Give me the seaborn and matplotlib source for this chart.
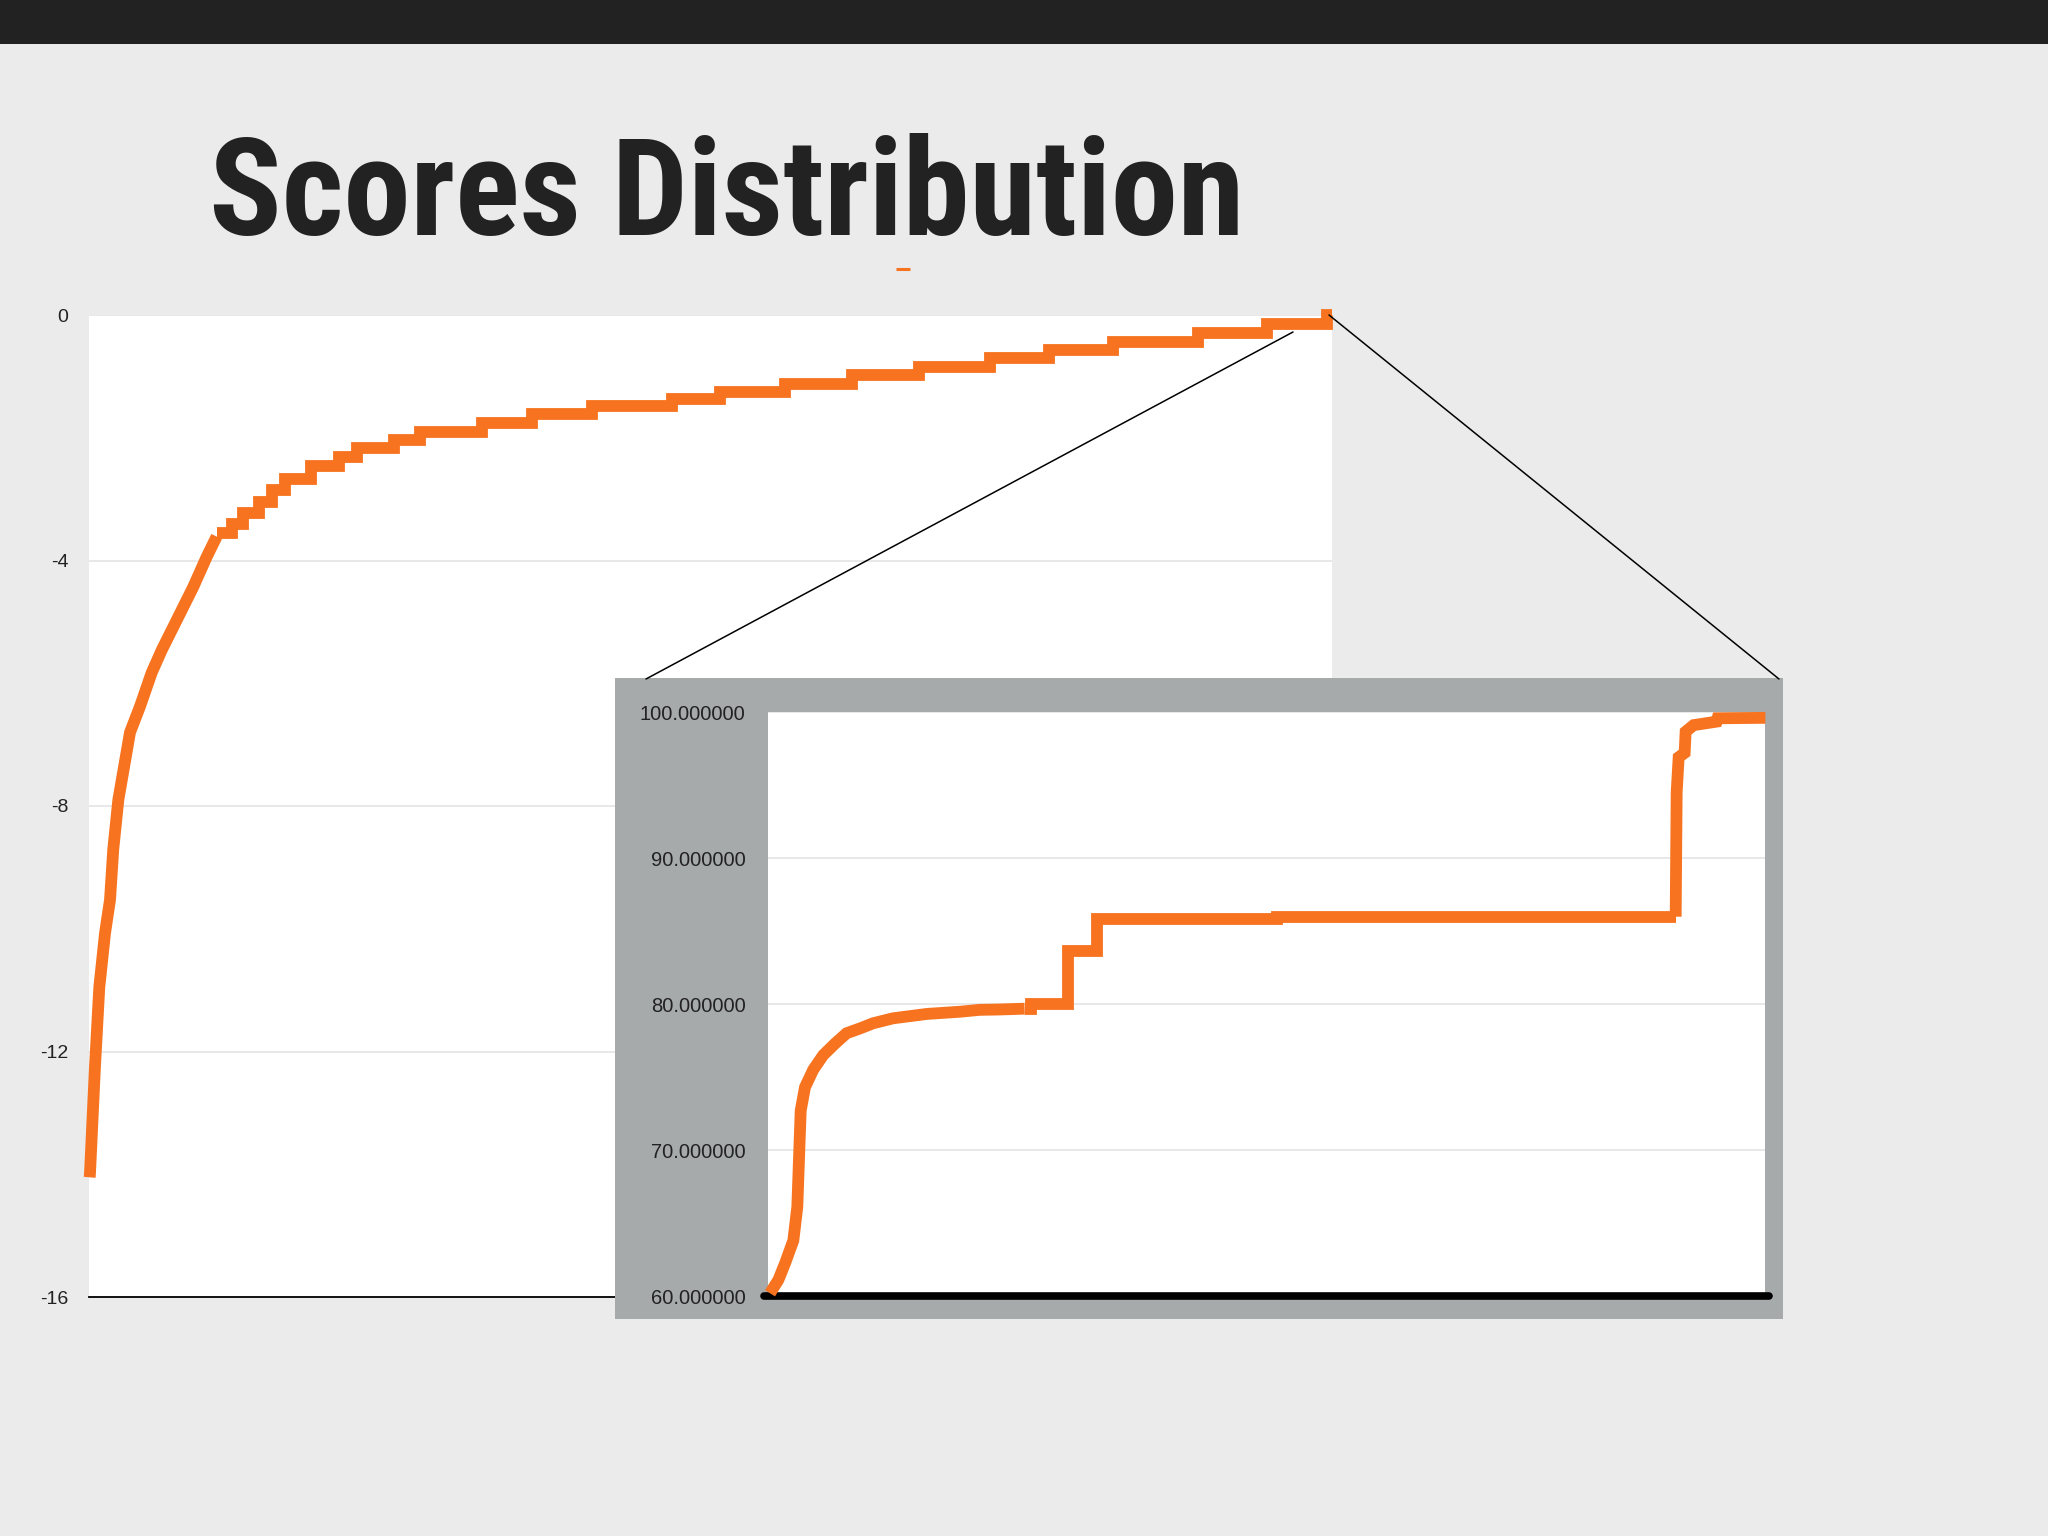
import matplotlib
matplotlib.use("Agg")
import matplotlib.pyplot as plt
import seaborn as sns
from matplotlib import font_manager
from matplotlib.lines import Line2D
from matplotlib.patches import Rectangle

# ---------------- data ----------------
# main chart: percentile of ranked items (x) vs. score (y)
# steep, smooth-looking head of the curve
main_head_x = [0.05, 0.08, 0.48, 0.83, 1.29, 1.69, 1.95, 2.36, 3.30, 4.10, 5.04, 5.85,
               7.06, 8.39, 9.47, 10.27]
main_head_y = [-14.05, -13.98, -12.25, -10.95, -10.07, -9.53, -8.71, -7.9, -6.8, -6.38,
               -5.83, -5.46, -4.97, -4.43, -3.94, -3.61]
# stepped tail of the curve
main_step_x = [10.27, 11.5, 12.4, 13.7, 14.7, 15.8, 17.9, 20.1, 21.6, 24.5, 26.6, 31.6,
               35.6, 40.5, 46.9, 50.8, 56.0, 61.4, 66.8, 72.5, 77.2, 82.4, 89.2, 94.8,
               99.6, 100]
main_step_y = [-3.55, -3.41, -3.23, -3.04, -2.85, -2.67, -2.46, -2.31, -2.17, -2.04,
               -1.90, -1.76, -1.61, -1.48, -1.37, -1.25, -1.12, -0.98, -0.84, -0.70,
               -0.57, -0.44, -0.29, -0.15, 0.0, 0.0]
main_ticks = [0, -4, -8, -12, -16]
main_tick_labels = ["0", "-4", "-8", "-12", "-16"]

# inset (zoomed) chart
inset_head_x = [0.16, 1.0, 1.67, 2.5, 2.9, 3.1, 3.24, 3.67, 4.5, 5.5, 6.7, 7.85, 9.2,
                10.5, 12.5, 15.9, 19.2, 21.2, 23.0, 25.7]
inset_head_y = [60.19, 61.1, 62.24, 63.8, 66.1, 70.0, 72.7, 74.3, 75.5, 76.5, 77.3, 78.0,
                78.33, 78.68, 79.02, 79.32, 79.47, 79.6, 79.62, 79.68]
inset_step_x = [25.7, 26.3, 30.0, 33.0, 51.0, 91.0]
inset_step_y = [79.68, 80.0, 83.6, 85.84, 85.98, 85.98]
inset_tail_x = [91.0, 91.1, 91.3, 91.9, 92.0, 92.8, 95.1, 95.2, 100]
inset_tail_y = [85.98, 94.5, 96.9, 97.2, 98.65, 99.1, 99.34, 99.57, 99.6]
inset_ticks = [60, 70, 80, 90, 100]
inset_tick_labels = ["%.6f" % v for v in inset_ticks]

title_text = "Scores Distribution"

# ---------------- style ----------------
ORANGE = "#F7731F"
BG = "#EBEBEC"
PANEL = "#A7AAAB"
TEXT = "#222222"
GRID = "#E2E2E2"
LW = 8.5

sns.set_theme(style="white")
plt.rcParams["font.family"] = ["Liberation Sans", "DejaVu Sans"]

W, H = 2048, 1536
fig = plt.figure(figsize=(W / 100, H / 100), dpi=100, facecolor=BG)


def fx(px):
    return px / W


def fy(py):
    return 1 - py / H


def draw_curve(ax, x, y, steps):
    kw = dict(ax=ax, color=ORANGE, linewidth=LW, estimator=None, sort=False,
              clip_on=False, solid_capstyle="butt", solid_joinstyle="miter", zorder=3)
    if steps:
        kw["drawstyle"] = "steps-post"
    sns.lineplot(x=x, y=y, **kw)
    for ln in ax.lines:
        if ln.get_color() == ORANGE:
            ln.set_linewidth(LW)


# top dark bar
fig.add_artist(Rectangle((0, fy(44)), 1, 44 / H, transform=fig.transFigure,
                         facecolor="#222222", edgecolor="none", zorder=0))

# ---------------- main axes ----------------
ax = fig.add_axes([fx(89), fy(1297), 1243 / W, 982 / H])
ax.set_facecolor("white")
draw_curve(ax, main_head_x, main_head_y, steps=False)
draw_curve(ax, main_step_x, main_step_y, steps=True)
ax.set_xlim(0, 100)
ax.set_ylim(-16, 0)
ax.set_xticks([])
ax.set_yticks(main_ticks)
ax.set_yticklabels(main_tick_labels)
ax.grid(axis="y", color=GRID, linewidth=1.1)
ax.set_axisbelow(True)
for s in ["left", "right", "top"]:
    ax.spines[s].set_visible(False)
ax.spines["bottom"].set_color("black")
ax.spines["bottom"].set_linewidth(1.3)
ax.tick_params(axis="y", length=0, pad=15, labelsize=14, labelcolor=TEXT)
ax.set_xlabel("")
ax.set_ylabel("")

# ---------------- inset panel ----------------
gp = fig.add_axes([fx(615), fy(1319), 1168 / W, 641 / H])
gp.set_facecolor(PANEL)
gp.set_xticks([])
gp.set_yticks([])
for s in gp.spines.values():
    s.set_visible(False)

ia = fig.add_axes([fx(768.4), fy(1296), 997 / W, 584 / H])
ia.set_facecolor("white")
draw_curve(ia, inset_head_x, inset_head_y, steps=False)
draw_curve(ia, inset_step_x, inset_step_y, steps=True)
draw_curve(ia, inset_tail_x, inset_tail_y, steps=False)
ia.axhline(60, xmin=-0.004, xmax=1.004, color="black", linewidth=5.5,
           clip_on=False, zorder=2)
ia.set_xlim(0, 100)
ia.set_ylim(60, 100)
ia.set_xticks([])
ia.set_yticks(inset_ticks)
ia.set_yticklabels(inset_tick_labels)
ia.grid(axis="y", color=GRID, linewidth=1.1)
ia.set_axisbelow(True)
for s in ia.spines.values():
    s.set_visible(False)
ia.tick_params(axis="y", length=0, pad=16.5, labelsize=14.5, labelcolor=TEXT)
ia.set_xlabel("")
ia.set_ylabel("")

# ---------------- connector lines ----------------
for (x0, y0), (x1, y1) in [((646, 679), (1293, 332)), ((1329, 315), (1779, 679))]:
    fig.add_artist(Line2D([fx(x0), fx(x1)], [fy(y0), fy(y1)], transform=fig.transFigure,
                          color="black", linewidth=1.1, zorder=5))

# small orange accent under title
fig.add_artist(Line2D([fx(896), fx(910)], [fy(269), fy(269)], transform=fig.transFigure,
                      color=ORANGE, linewidth=2.2, solid_capstyle="butt", zorder=5))

# ---------------- title ----------------
title_family = "Liberation Sans"
for cand in ["Liberation Sans Narrow", "Roboto Condensed", "DejaVu Sans Condensed",
             "Roboto", "Liberation Sans"]:
    try:
        font_manager.findfont(font_manager.FontProperties(family=cand, weight="bold"),
                              fallback_to_default=False)
        title_family = cand
        break
    except Exception:
        continue

t = fig.text(fx(209), fy(235), title_text, fontfamily=title_family, fontweight="bold",
             fontsize=98, color=TEXT, ha="left", va="baseline")
fig.canvas.draw()
bb = t.get_window_extent(renderer=fig.canvas.get_renderer())
target_w = 1035
t.set_fontsize(98 * target_w / bb.width)

fig.savefig("out.png", dpi=100, facecolor=BG)
